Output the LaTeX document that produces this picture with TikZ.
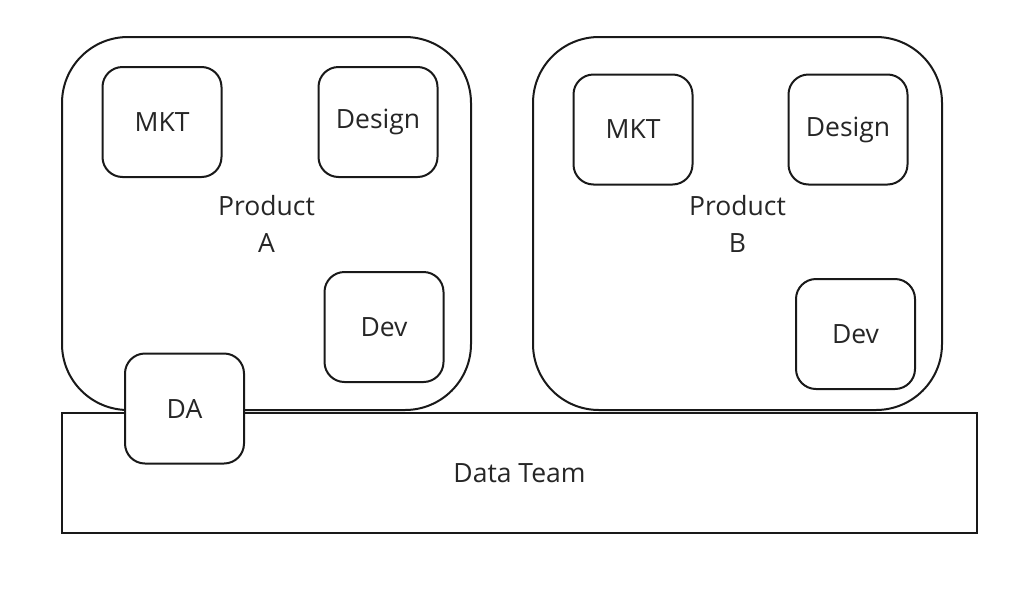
\documentclass[tikz,border=0pt]{standalone}
\usepackage{fontspec}
\setmainfont{Open Sans}
\begin{document}
\begin{tikzpicture}[x=1pt,y=-1pt,
  every node/.style={font=\fontsize{26.5}{37}\selectfont, text=black!85},
  team/.style={draw=black!90, line width=2pt, fill=white, rectangle, inner sep=0pt},
  prod/.style={draw=black!90, line width=2pt, rounded corners=66pt, rectangle, inner sep=0pt, align=center, minimum width=409pt, minimum height=373pt},
  unit/.style={draw=black!90, line width=2pt, fill=white, rounded corners=20pt, rectangle, inner sep=0pt, minimum width=119pt, minimum height=110pt}]
\useasboundingbox (0,0) rectangle (1024,592);
\node[team, minimum width=915pt, minimum height=120pt] (data) at (519.5,473) {Data Team};
\node[prod] (pa) at (266.5,223.5) {Product\\A};
\node[prod] (pb) at (737.5,223.5) {Product\\B};
\node[unit] (mkta) at (162,122) {MKT};
\node[unit] (desa) at (378,122) {Design};
\node[unit] (deva) at (384,327) {Dev};
\node[unit] (mktb) at (633,129.5) {MKT};
\node[unit] (desb) at (848,129.5) {Design};
\node[unit] (devb) at (855.5,334) {Dev};
\node[unit] (da) at (184.5,408.5) {DA};
\end{tikzpicture}
\end{document}
